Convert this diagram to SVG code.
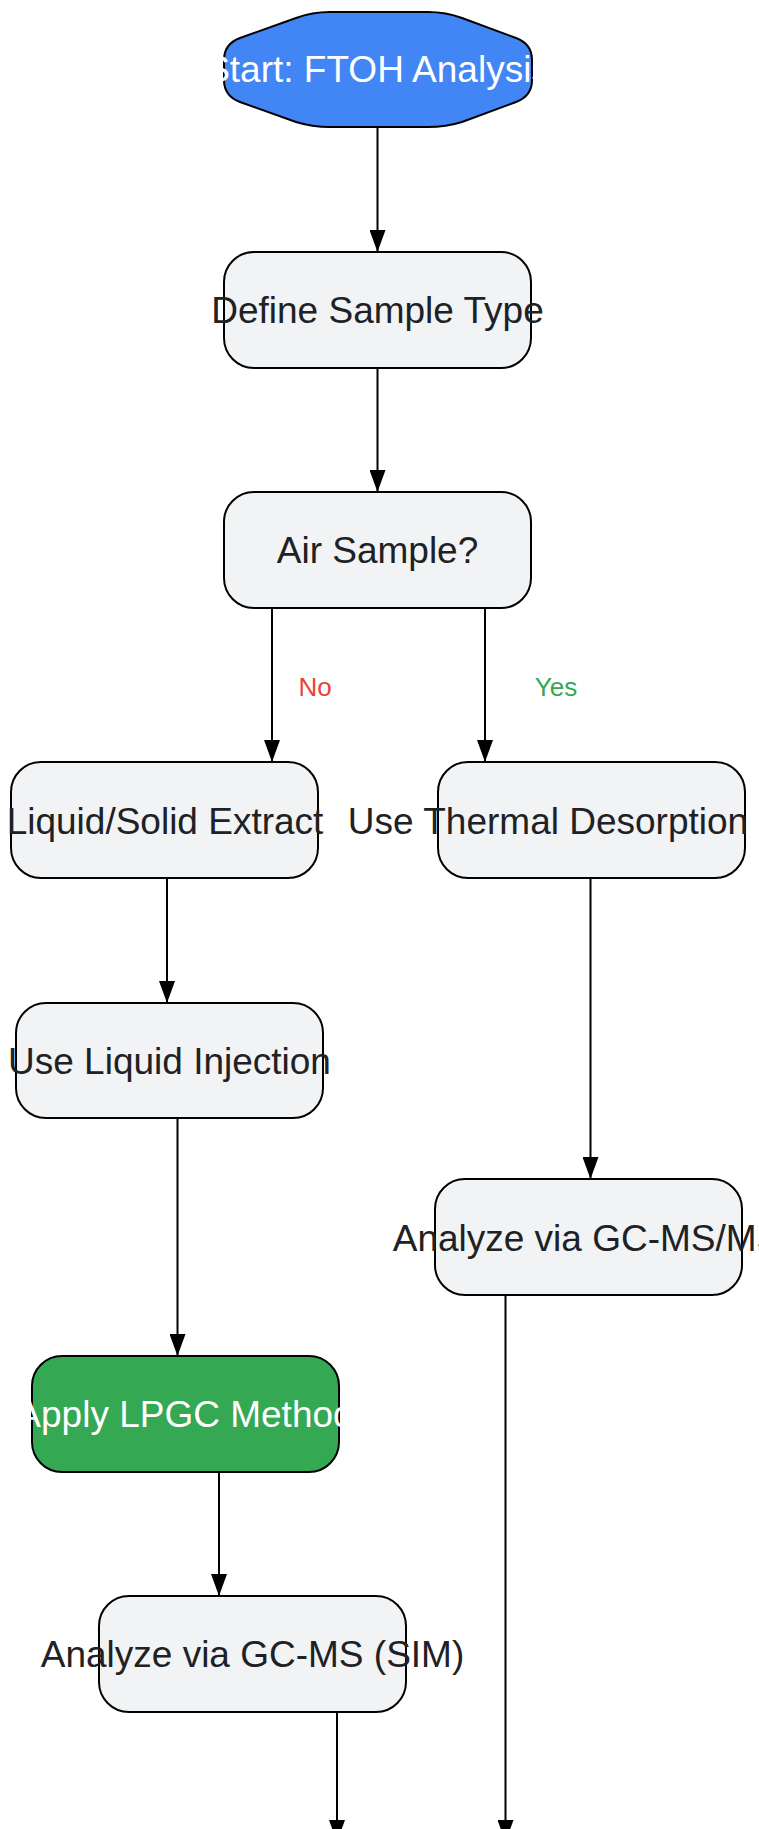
<svg xmlns="http://www.w3.org/2000/svg" width="759" height="1829" viewBox="0 0 759 1829">
<style>
.node{fill:#F1F3F4;stroke:#000;stroke-width:2}
.lbl{font-family:"Liberation Sans",Arial,sans-serif;font-size:37px;fill:#202124;text-anchor:middle}
.wl{fill:#FFFFFF}
.edge{stroke:#000;stroke-width:2;fill:none;marker-end:url(#arr)}
.el{font-family:"Liberation Sans",Arial,sans-serif;font-size:26px;text-anchor:middle}
</style>
<defs>
<marker id="arr" markerUnits="userSpaceOnUse" markerWidth="22" markerHeight="16" viewBox="0 0 22 16" refX="22" refY="8" orient="auto">
<path d="M0,0 L22,8 L0,16 Z" fill="#000"/>
</marker>
</defs>
<rect width="759" height="1829" fill="#FFFFFF"/>
<g id="connectors">
<line class="edge" x1="377.5" y1="127" x2="377.5" y2="252"/>
<line class="edge" x1="377.5" y1="368" x2="377.5" y2="492"/>
<line class="edge" x1="272" y1="608" x2="272" y2="762"/>
<line class="edge" x1="485" y1="608" x2="485" y2="762"/>
<line class="edge" x1="167" y1="878" x2="167" y2="1003"/>
<line class="edge" x1="590.5" y1="878" x2="590.5" y2="1179"/>
<line class="edge" x1="177.5" y1="1118" x2="177.5" y2="1356"/>
<line class="edge" x1="219" y1="1472" x2="219" y2="1596"/>
<line class="edge" x1="337" y1="1712" x2="337" y2="1842"/>
<line class="edge" x1="505.5" y1="1295" x2="505.5" y2="1842"/>
<text class="el" x="315" y="696" fill="#EA4335">No</text>
<text class="el" x="556" y="696" fill="#34A853">Yes</text>
</g>
<g id="start">
<path d="M330,12 L428,12 Q446,12 462,18 L516,38 Q532,44 532,60 L532,80 Q532,96 516,102 L462,122 Q446,127 428,127 L330,127 Q312,127 296,122 L240,102 Q224,96 224,80 L224,60 Q224,44 240,38 L296,18 Q312,12 330,12 Z" fill="#4285F4" stroke="#000" stroke-width="2"/>
<text class="lbl wl" x="377.5" y="82">Start: FTOH Analysis</text>
</g>
<g id="define">
<rect class="node" x="224" y="252" width="307" height="116" rx="30"/>
<text class="lbl" x="377.5" y="323">Define Sample Type</text>
</g>
<g id="air">
<rect class="node" x="224" y="492" width="307" height="116" rx="30"/>
<text class="lbl" x="377.5" y="563">Air Sample?</text>
</g>
<g id="extract">
<rect class="node" x="11" y="762" width="307" height="116" rx="30"/>
<text class="lbl" x="165" y="834">Liquid/Solid Extract</text>
</g>
<g id="thermal">
<rect class="node" x="438" y="762" width="307" height="116" rx="30"/>
<text class="lbl" x="548" y="834">Use Thermal Desorption</text>
</g>
<g id="injection">
<rect class="node" x="16" y="1003" width="307" height="115" rx="30"/>
<text class="lbl" x="169.5" y="1074">Use Liquid Injection</text>
</g>
<g id="gcmsms">
<rect class="node" x="435" y="1179" width="307" height="116" rx="30"/>
<text class="lbl" x="587" y="1251">Analyze via GC-MS/MS</text>
</g>
<g id="lpgc">
<rect x="32" y="1356" width="307" height="116" rx="30" fill="#34A853" stroke="#000" stroke-width="2"/>
<text class="lbl wl" x="185" y="1427">Apply LPGC Method</text>
</g>
<g id="gcmssim">
<rect class="node" x="99" y="1596" width="307" height="116" rx="30"/>
<text class="lbl" x="252.5" y="1667">Analyze via GC-MS (SIM)</text>
</g>
</svg>
